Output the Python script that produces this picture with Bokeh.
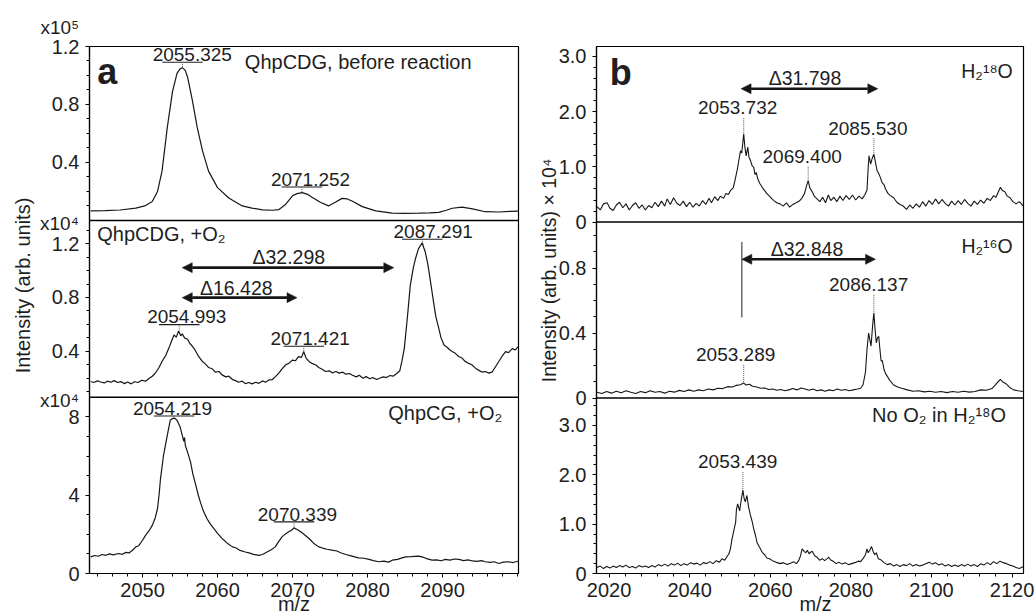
import math
from bokeh.plotting import figure
from bokeh.layouts import row
from bokeh.models import (Range1d, FixedTicker, CustomJSTickFormatter, Span,
                          Arrow, NormalHead, ColumnDataSource, GridBox)
from bokeh.core.properties import value
from bokeh.embed import file_html
from bokeh.resources import INLINE

# ---------------------------------------------------------------- data
# (m/z, intensity)
A1 = [(2043.1, 0.066), (2045.0, 0.068), (2047.0, 0.072), (2049.1, 0.085), (2050.3, 0.1),
      (2051.3, 0.13), (2052.0, 0.2), (2052.6, 0.34), (2053.3, 0.64), (2054.0, 0.89),
      (2054.6, 1.015), (2055.0, 1.045), (2055.3, 1.054), (2055.7, 1.035), (2056.0, 0.99),
      (2056.6, 0.84), (2057.3, 0.64), (2058.0, 0.48), (2058.8, 0.34), (2060.0, 0.226),
      (2061.5, 0.155), (2063.3, 0.1), (2064.6, 0.085), (2066.0, 0.073), (2067.3, 0.07),
      (2068.2, 0.075), (2069.1, 0.112), (2070.0, 0.17), (2070.6, 0.185), (2071.3, 0.192),
      (2072.0, 0.18), (2072.6, 0.16), (2073.7, 0.125), (2074.8, 0.1), (2075.7, 0.125),
      (2076.6, 0.152), (2077.3, 0.148), (2078.0, 0.132), (2079.3, 0.095), (2081.1, 0.066),
      (2083.3, 0.05), (2085.0, 0.048), (2086.8, 0.05), (2088.3, 0.052), (2089.5, 0.055),
      (2090.5, 0.07), (2091.3, 0.084), (2092.6, 0.092), (2094.0, 0.08), (2095.7, 0.06),
      (2097.5, 0.058), (2099.0, 0.062), (2100.1, 0.064)]

A2 = [(2043.1, 0.176), (2043.5, 0.168), (2044.0, 0.18), (2044.4, 0.172), (2044.9, 0.165),
      (2045.3, 0.178), (2045.8, 0.17), (2046.2, 0.182), (2046.7, 0.168), (2047.1, 0.175),
      (2047.6, 0.16), (2048.0, 0.172), (2048.5, 0.158), (2048.9, 0.174), (2049.4, 0.168),
      (2049.9, 0.185), (2050.4, 0.178), (2050.9, 0.2), (2051.3, 0.215), (2051.7, 0.237),
      (2052.2, 0.28), (2052.6, 0.324), (2053.1, 0.37), (2053.5, 0.422), (2053.9, 0.48),
      (2054.2, 0.521), (2054.5, 0.505), (2054.8, 0.55), (2055.1, 0.515), (2055.3, 0.53),
      (2055.6, 0.5), (2056.0, 0.49), (2056.3, 0.46), (2056.6, 0.44), (2057.0, 0.41),
      (2057.3, 0.38), (2057.5, 0.36), (2057.9, 0.33), (2058.4, 0.305), (2058.8, 0.28),
      (2059.3, 0.27), (2059.7, 0.245), (2060.2, 0.25), (2060.6, 0.225), (2061.1, 0.21),
      (2061.5, 0.215), (2062.0, 0.19), (2062.4, 0.182), (2062.8, 0.17), (2063.3, 0.178),
      (2063.7, 0.16), (2064.2, 0.168), (2064.6, 0.158), (2065.1, 0.17), (2065.5, 0.162),
      (2066.0, 0.18), (2066.4, 0.17), (2066.9, 0.188), (2067.3, 0.19), (2067.7, 0.21),
      (2068.2, 0.24), (2068.6, 0.27), (2069.1, 0.3), (2069.5, 0.31), (2070.0, 0.335),
      (2070.4, 0.33), (2070.8, 0.36), (2071.2, 0.355), (2071.5, 0.398), (2071.8, 0.35),
      (2072.2, 0.325), (2072.6, 0.31), (2073.1, 0.298), (2073.5, 0.28), (2074.0, 0.265),
      (2074.4, 0.25), (2074.9, 0.255), (2075.3, 0.24), (2075.8, 0.25), (2076.2, 0.238),
      (2076.7, 0.245), (2077.1, 0.23), (2077.6, 0.235), (2078.0, 0.222), (2078.5, 0.21),
      (2078.9, 0.222), (2079.4, 0.2), (2079.8, 0.212), (2080.3, 0.196), (2080.7, 0.205),
      (2081.2, 0.19), (2081.6, 0.2), (2082.1, 0.21), (2082.5, 0.205), (2083.0, 0.22),
      (2083.4, 0.215), (2083.9, 0.235), (2084.3, 0.255), (2084.6, 0.33), (2084.9, 0.42),
      (2085.3, 0.644), (2085.7, 0.89), (2086.1, 1.02), (2086.4, 1.09), (2086.8, 1.163),
      (2087.3, 1.207), (2087.5, 1.17), (2087.7, 1.138), (2088.0, 1.06), (2088.2, 0.99),
      (2088.5, 0.88), (2088.8, 0.768), (2089.1, 0.66), (2089.5, 0.57), (2089.8, 0.5),
      (2090.2, 0.447), (2090.6, 0.43), (2091.0, 0.41), (2091.3, 0.398), (2091.7, 0.385),
      (2092.2, 0.36), (2092.6, 0.35), (2093.0, 0.325), (2093.5, 0.31), (2093.9, 0.3),
      (2094.4, 0.275), (2094.8, 0.26), (2095.3, 0.245), (2095.7, 0.25), (2096.2, 0.238),
      (2096.6, 0.245), (2097.0, 0.28), (2097.5, 0.324), (2097.9, 0.36), (2098.4, 0.398),
      (2098.8, 0.39), (2099.3, 0.42), (2099.7, 0.41), (2100.1, 0.435)]

A3 = [(2043.1, 0.85), (2043.6, 0.92), (2044.1, 0.88), (2044.6, 0.97), (2045.1, 0.93),
      (2045.6, 1.0), (2046.1, 0.95), (2046.8, 1.02), (2047.3, 0.98), (2047.8, 1.08),
      (2048.2, 1.05), (2048.7, 1.2), (2049.1, 1.36), (2049.5, 1.42), (2050.0, 1.7),
      (2050.4, 1.95), (2050.9, 2.2), (2051.3, 2.46), (2051.7, 2.85), (2052.0, 3.32),
      (2052.2, 4.0), (2052.4, 4.85), (2052.8, 6.04), (2053.3, 7.06), (2053.7, 7.83),
      (2053.9, 7.9), (2054.2, 7.94), (2054.4, 7.9), (2054.6, 7.83), (2055.0, 7.5),
      (2055.3, 7.06), (2055.5, 6.75), (2055.6, 6.95), (2055.7, 6.55), (2056.0, 6.2),
      (2056.4, 5.7), (2056.7, 5.1), (2057.1, 4.51), (2057.4, 4.05), (2057.7, 3.66),
      (2058.1, 3.2), (2058.6, 2.8), (2059.0, 2.55), (2059.5, 2.3), (2060.0, 2.05),
      (2060.6, 1.79), (2061.3, 1.55), (2062.0, 1.36), (2062.5, 1.3), (2063.0, 1.18),
      (2063.7, 1.1), (2064.2, 1.05), (2064.8, 0.98), (2065.5, 0.93), (2066.0, 0.97),
      (2066.6, 1.1), (2067.1, 1.2), (2067.7, 1.36), (2068.1, 1.6), (2068.6, 1.87),
      (2069.0, 2.0), (2069.5, 2.13), (2069.9, 2.22), (2070.2, 2.33), (2070.6, 2.25),
      (2071.1, 2.13), (2071.6, 1.98), (2072.2, 1.79), (2072.8, 1.55), (2073.5, 1.36),
      (2074.0, 1.3), (2074.6, 1.24), (2075.3, 1.19), (2075.9, 1.15), (2076.5, 1.05),
      (2077.1, 0.97), (2077.8, 0.9), (2078.8, 0.8), (2079.5, 0.78), (2080.2, 0.72),
      (2080.8, 0.66), (2081.5, 0.6), (2082.2, 0.63), (2082.8, 0.58), (2083.3, 0.68),
      (2084.0, 0.72), (2084.6, 0.8), (2085.1, 0.85), (2085.8, 0.86), (2086.8, 0.89),
      (2087.5, 0.82), (2088.0, 0.75), (2088.6, 0.68), (2089.2, 0.7), (2089.8, 0.65),
      (2090.4, 0.72), (2091.0, 0.68), (2091.6, 0.74), (2092.2, 0.72), (2092.8, 0.66),
      (2093.4, 0.7), (2094.0, 0.64), (2094.6, 0.62), (2095.2, 0.66), (2095.7, 0.6),
      (2096.3, 0.57), (2096.9, 0.6), (2097.5, 0.51), (2098.1, 0.58), (2098.8, 0.6),
      (2099.4, 0.56), (2100.2, 0.64)]

B1 = [(2017.0, 0.28), (2017.8, 0.22), (2018.6, 0.33), (2019.5, 0.35), (2020.2, 0.25),
      (2021.0, 0.21), (2021.8, 0.31), (2022.6, 0.36), (2023.4, 0.26), (2024.2, 0.33),
      (2025.0, 0.22), (2025.8, 0.3), (2026.6, 0.35), (2027.4, 0.25), (2028.2, 0.31),
      (2029.0, 0.22), (2029.8, 0.3), (2030.6, 0.26), (2031.4, 0.36), (2032.2, 0.28),
      (2033.0, 0.38), (2033.8, 0.29), (2034.4, 0.42), (2035.2, 0.32), (2036.0, 0.44),
      (2036.8, 0.34), (2037.6, 0.3), (2038.4, 0.38), (2039.2, 0.28), (2040.0, 0.36),
      (2040.8, 0.27), (2041.6, 0.34), (2042.4, 0.29), (2043.2, 0.39), (2044.0, 0.32),
      (2044.8, 0.43), (2045.4, 0.35), (2046.2, 0.46), (2047.0, 0.39), (2047.6, 0.47),
      (2048.4, 0.43), (2049.0, 0.52), (2049.6, 0.5), (2050.2, 0.58), (2050.8, 0.62),
      (2051.3, 0.78), (2051.8, 0.95), (2052.2, 1.12), (2052.6, 1.29), (2052.9, 1.25),
      (2053.2, 1.45), (2053.4, 1.6), (2053.7, 1.35), (2054.0, 1.2), (2054.4, 1.36),
      (2054.7, 1.18), (2055.1, 1.11), (2055.5, 1.02), (2055.9, 0.99), (2056.2, 0.86),
      (2056.5, 0.9), (2056.9, 0.78), (2057.4, 0.7), (2058.0, 0.63), (2058.6, 0.57),
      (2059.2, 0.51), (2059.8, 0.47), (2060.4, 0.42), (2060.9, 0.39), (2061.6, 0.35),
      (2062.4, 0.33), (2063.2, 0.29), (2064.0, 0.35), (2064.8, 0.27), (2065.6, 0.32),
      (2066.4, 0.35), (2067.2, 0.38), (2067.9, 0.44), (2068.5, 0.52), (2069.0, 0.66),
      (2069.4, 0.75), (2069.8, 0.62), (2070.4, 0.55), (2071.0, 0.46), (2071.6, 0.42),
      (2072.3, 0.37), (2073.0, 0.45), (2073.7, 0.35), (2074.4, 0.49), (2075.0, 0.39),
      (2075.8, 0.45), (2076.5, 0.37), (2077.3, 0.47), (2078.0, 0.39), (2078.8, 0.48),
      (2079.6, 0.41), (2080.4, 0.49), (2081.2, 0.4), (2082.0, 0.47), (2082.8, 0.42),
      (2083.5, 0.5), (2084.0, 0.58), (2084.3, 1.0), (2084.5, 1.2), (2084.9, 1.05),
      (2085.3, 1.16), (2085.7, 1.23), (2086.1, 1.08), (2086.5, 0.93), (2086.9, 0.88),
      (2087.3, 0.81), (2087.7, 0.72), (2088.2, 0.68), (2088.6, 0.6), (2089.2, 0.52),
      (2089.8, 0.48), (2090.6, 0.44), (2091.4, 0.36), (2092.2, 0.32), (2093.0, 0.29),
      (2093.8, 0.23), (2094.6, 0.31), (2095.4, 0.25), (2096.2, 0.33), (2097.0, 0.27),
      (2097.8, 0.37), (2098.6, 0.29), (2099.4, 0.39), (2100.2, 0.32), (2101.0, 0.42),
      (2101.8, 0.33), (2102.6, 0.41), (2103.4, 0.34), (2104.2, 0.29), (2105.0, 0.38),
      (2105.8, 0.31), (2106.6, 0.39), (2107.4, 0.32), (2108.2, 0.41), (2109.0, 0.34),
      (2109.8, 0.29), (2110.6, 0.38), (2111.4, 0.32), (2112.2, 0.4), (2113.0, 0.34),
      (2113.8, 0.43), (2114.6, 0.39), (2115.4, 0.48), (2116.0, 0.45), (2116.6, 0.55),
      (2117.1, 0.63), (2117.6, 0.57), (2118.2, 0.55), (2118.8, 0.47), (2119.5, 0.44),
      (2120.2, 0.37), (2121.0, 0.33), (2121.8, 0.37), (2122.8, 0.29)]

B2 = [(2017.0, 0.035), (2018.2, 0.028), (2019.4, 0.04), (2020.6, 0.03), (2021.8, 0.042),
      (2023.0, 0.032), (2024.2, 0.045), (2025.4, 0.035), (2026.6, 0.028), (2027.8, 0.04),
      (2029.0, 0.033), (2030.2, 0.045), (2031.4, 0.035), (2032.6, 0.04), (2033.8, 0.03),
      (2035.0, 0.042), (2036.2, 0.036), (2037.4, 0.047), (2038.6, 0.04), (2039.8, 0.05),
      (2041.0, 0.042), (2042.2, 0.05), (2043.4, 0.045), (2044.6, 0.055), (2045.8, 0.05),
      (2047.0, 0.06), (2048.2, 0.058), (2049.4, 0.07), (2050.6, 0.068), (2051.6, 0.078),
      (2052.6, 0.082), (2053.4, 0.092), (2054.0, 0.08), (2054.8, 0.085), (2055.6, 0.072),
      (2056.6, 0.068), (2057.6, 0.06), (2058.6, 0.062), (2059.6, 0.052), (2060.6, 0.055),
      (2061.6, 0.048), (2062.6, 0.052), (2063.6, 0.045), (2064.6, 0.05), (2065.6, 0.058),
      (2066.6, 0.05), (2067.6, 0.062), (2068.6, 0.055), (2069.6, 0.048), (2070.6, 0.055),
      (2071.6, 0.045), (2072.6, 0.05), (2073.6, 0.042), (2074.6, 0.05), (2075.6, 0.045),
      (2076.6, 0.055), (2077.6, 0.048), (2078.6, 0.052), (2079.6, 0.045), (2080.6, 0.05),
      (2081.6, 0.055), (2082.4, 0.06), (2083.0, 0.08), (2083.6, 0.156), (2084.0, 0.3),
      (2084.4, 0.40), (2084.7, 0.36), (2085.0, 0.32), (2085.4, 0.45), (2085.7, 0.525),
      (2086.0, 0.42), (2086.3, 0.34), (2086.6, 0.37), (2086.9, 0.38), (2087.2, 0.3),
      (2087.5, 0.228), (2087.8, 0.23), (2088.2, 0.177), (2088.6, 0.15), (2089.0, 0.135),
      (2089.6, 0.11), (2090.6, 0.08), (2091.6, 0.068), (2092.6, 0.06), (2094.0, 0.05),
      (2095.4, 0.042), (2096.8, 0.045), (2098.2, 0.038), (2099.6, 0.042), (2101.0, 0.035),
      (2102.4, 0.04), (2103.8, 0.033), (2105.2, 0.04), (2106.6, 0.035), (2108.0, 0.042),
      (2109.4, 0.036), (2110.8, 0.04), (2112.2, 0.05), (2113.6, 0.048), (2115.0, 0.058),
      (2115.8, 0.08), (2116.5, 0.1), (2117.1, 0.115), (2117.6, 0.1), (2118.4, 0.09),
      (2119.4, 0.065), (2120.4, 0.05), (2121.4, 0.045), (2122.8, 0.04)]

B3 = [(2017.0, 0.12), (2017.8, 0.15), (2018.6, 0.1), (2019.4, 0.14), (2020.2, 0.11),
      (2021.0, 0.15), (2021.8, 0.12), (2022.6, 0.16), (2023.4, 0.13), (2024.2, 0.17),
      (2025.0, 0.12), (2025.8, 0.14), (2026.6, 0.11), (2027.4, 0.16), (2028.2, 0.13),
      (2029.0, 0.15), (2029.8, 0.12), (2030.6, 0.16), (2031.4, 0.13), (2032.2, 0.18),
      (2033.0, 0.15), (2033.8, 0.19), (2034.6, 0.15), (2035.4, 0.2), (2036.2, 0.17),
      (2037.0, 0.21), (2037.8, 0.16), (2038.6, 0.2), (2039.4, 0.17), (2040.2, 0.22),
      (2041.0, 0.19), (2041.8, 0.21), (2042.6, 0.17), (2043.4, 0.22), (2044.2, 0.2),
      (2045.0, 0.24), (2045.8, 0.2), (2046.6, 0.26), (2047.4, 0.23), (2048.0, 0.3),
      (2048.7, 0.27), (2049.3, 0.35), (2049.7, 0.39), (2050.1, 0.5), (2050.5, 0.7),
      (2050.9, 0.85), (2051.4, 1.04), (2051.6, 1.3), (2051.9, 1.41), (2052.4, 1.27),
      (2052.8, 1.5), (2053.2, 1.69), (2053.5, 1.52), (2053.8, 1.45), (2054.2, 1.58),
      (2054.6, 1.35), (2055.1, 1.17), (2055.5, 1.05), (2055.9, 0.9), (2056.3, 0.78),
      (2056.7, 0.63), (2057.2, 0.55), (2058.0, 0.43), (2058.6, 0.38), (2059.2, 0.31),
      (2059.8, 0.3), (2060.5, 0.26), (2061.2, 0.24), (2061.7, 0.22), (2062.5, 0.2),
      (2063.2, 0.22), (2064.2, 0.18), (2065.0, 0.21), (2065.8, 0.24), (2066.5, 0.2),
      (2067.1, 0.27), (2067.5, 0.36), (2067.9, 0.5), (2068.4, 0.45), (2068.8, 0.42),
      (2069.2, 0.47), (2069.6, 0.4), (2070.0, 0.43), (2070.4, 0.45), (2071.0, 0.36),
      (2071.6, 0.33), (2072.2, 0.27), (2072.9, 0.3), (2073.5, 0.26), (2074.1, 0.3),
      (2074.5, 0.33), (2074.9, 0.28), (2075.6, 0.25), (2076.3, 0.2), (2077.0, 0.23),
      (2077.8, 0.19), (2078.6, 0.22), (2079.4, 0.18), (2080.2, 0.2), (2081.0, 0.22),
      (2081.8, 0.25), (2082.4, 0.24), (2083.0, 0.3), (2083.6, 0.38), (2084.0, 0.5),
      (2084.3, 0.42), (2084.7, 0.47), (2085.1, 0.55), (2085.5, 0.45), (2085.9, 0.38),
      (2086.3, 0.42), (2086.8, 0.3), (2087.4, 0.28), (2088.2, 0.22), (2089.0, 0.18),
      (2089.8, 0.2), (2090.6, 0.15), (2091.4, 0.18), (2092.2, 0.14), (2093.0, 0.18),
      (2093.8, 0.16), (2094.6, 0.2), (2095.4, 0.15), (2096.2, 0.18), (2097.0, 0.15),
      (2097.8, 0.17), (2098.6, 0.2), (2099.4, 0.23), (2100.2, 0.19), (2101.0, 0.22),
      (2101.8, 0.17), (2102.6, 0.2), (2103.4, 0.15), (2104.2, 0.18), (2105.0, 0.14),
      (2105.8, 0.17), (2106.6, 0.14), (2107.4, 0.18), (2108.2, 0.15), (2109.0, 0.19),
      (2109.8, 0.15), (2110.6, 0.18), (2111.4, 0.14), (2112.2, 0.2), (2113.0, 0.17),
      (2113.8, 0.22), (2114.6, 0.18), (2115.4, 0.24), (2116.2, 0.2), (2117.0, 0.25),
      (2117.8, 0.22), (2118.6, 0.2), (2119.4, 0.17), (2120.2, 0.15), (2121.0, 0.12),
      (2121.8, 0.1), (2122.8, 0.14)]

# labelled peaks, panel a (underlined labels)
A1_PEAK_MZ = [2055.33, 2071.25]
A1_PEAK_INT = [1.054, 0.192]
A1_PEAK_TXT = ["2055.325", "2071.252"]
A2_PEAK_MZ = [2054.9, 2071.5, 2087.3]
A2_PEAK_INT = [0.55, 0.398, 1.207]
A2_PEAK_TXT = ["2054.993", "2071.421", "2087.291"]
A3_PEAK_MZ = [2054.2, 2070.2]
A3_PEAK_INT = [7.94, 2.33]
A3_PEAK_TXT = ["2054.219", "2070.339"]

# labelled peaks, panel b (dotted markers)
B1_PEAK_MZ = [2053.4, 2069.4, 2085.7]
B1_PEAK_INT = [1.60, 0.75, 1.23]
B1_PEAK_TXT = ["2053.732", "2069.400", "2085.530"]
B2_PEAK_MZ = [2085.7, 2053.4]
B2_PEAK_INT = [0.525, 0.092]
B2_PEAK_TXT = ["2086.137", "2053.289"]
B3_PEAK_MZ = [2053.2]
B3_PEAK_INT = [1.69]
B3_PEAK_TXT = ["2053.439"]

# mass differences (double arrows)
A2_DELTA_FROM = [2055.3, 2055.3]
A2_DELTA_TO = [2083.5, 2070.6]
A2_DELTA_TXT = ["\u039432.298", "\u039416.428"]
B1_DELTA_FROM = [2052.75]
B1_DELTA_TO = [2086.67]
B1_DELTA_TXT = ["\u039431.798"]
B2_DELTA_FROM = [2052.93]
B2_DELTA_TO = [2086.1]
B2_DELTA_TXT = ["\u039432.848"]

PANEL_TITLES_A = ["QhpCDG, before reaction", "QhpCDG, +O\u2082", "QhpCG, +O\u2082"]
PANEL_TITLES_B = ["H\u2082\u00b9\u2078O", "H\u2082\u00b9\u2076O", "No O\u2082 in H\u2082\u00b9\u2078O"]
SCALE_TXT = ["x10\u2075", "x10\u2074", "x10\u2074"]
Y_TITLE_A = "Intensity (arb. units)"
Y_TITLE_B = "Intensity (arb. units) \u00d7 10\u2074"
X_TITLE = "m/z"

A_YTICKS = [[0.4, 0.8, 1.2], [0.4, 0.8, 1.2], [0, 4, 8]]
A_YLABELS = [["0.4", "0.8", "1.2"], ["0.4", "0.8", "1.2"], ["0", "4", "8"]]
B_YTICKS = [[0, 1, 2, 3], [0, 0.4, 0.8], [0, 1, 2, 3]]
B_YLABELS = [["0", "1.0", "2.0", "3.0"], ["0", "0.4", "0.8"], ["0", "1.0", "2.0", "3.0"]]
A_XTICKS = [2050, 2060, 2070, 2080, 2090]
B_XTICKS = [2020, 2040, 2060, 2080, 2100, 2120]

# ---------------------------------------------------------------- layout / style
FONT = "Liberation Sans"
INK = "#161616"
TXT = "#1e1e1e"
GREY = "#555555"
MID = 0.35          # em offset between text middle and its baseline

W, H = 1035, 615
FRAME_H = 527
TOP = 46
BOTTOM = H - TOP - FRAME_H

A_XR = (2042.93, 2100.13)
B_XR = (2016.87, 2122.83)
A_LIMS = [(0.0, 1.2), (0.058, 1.373), (0.0, 9.0)]
B_LIMS = [(0.0, 3.18), (0.0, 1.083), (0.0, 3.555)]
A_BANDS = [(0.670, 1.0), (0.3343, 0.670), (0.0, 0.3343)]
B_BANDS = [(0.6668, 1.0), (0.333, 0.6668), (0.0, 0.333)]
A_MINOR = [0.1, 0.1, 1.0]
B_MINOR = [0.2, 0.1, 0.2]


def upp(lims, band):
    return (lims[1] - lims[0]) / ((band[1] - band[0]) * FRAME_H)


def make_side(width, lb, rb, xr, names, lims, bands, yt, yl, minor_steps, xticks, xminor):
    p = figure(width=width, height=H, x_range=Range1d(*xr), y_range=Range1d(0, 1),
               min_border_left=lb, min_border_right=rb, min_border_top=TOP,
               min_border_bottom=BOTTOM, output_backend="svg", toolbar_location=None,
               tools="", title=None)
    p.grid.visible = False
    p.background_fill_color = "white"
    p.border_fill_color = "white"
    p.outline_line_color = "black"
    p.outline_line_width = 1.2
    ranges = {}
    for nm, (lo, hi), (b0, b1) in zip(names, lims, bands):
        span = (hi - lo) / (b1 - b0)
        start = lo - b0 * span
        ranges[nm] = Range1d(start, start + span)
    p.extra_y_ranges = ranges

    pos, labs, minor = [], [], []
    for (lo, hi), (b0, b1), mj, ml, st in zip(lims, bands, yt, yl, minor_steps):
        for v, t in zip(mj, ml):
            q = round(b0 + (v - lo) / (hi - lo) * (b1 - b0), 6)
            q = min(max(q, 0.0), 1.0)
            pos.append(q)
            labs.append(t)
        n = int(hi / st + 1e-9)
        for k in range(1, n + 1):
            v = k * st
            if v <= lo or v >= hi - 1e-9:
                continue
            if any(abs(v - m) < 1e-9 for m in mj):
                continue
            minor.append(round(b0 + (v - lo) / (hi - lo) * (b1 - b0), 6))
    yax = p.yaxis[0]
    yax.ticker = FixedTicker(ticks=pos, minor_ticks=minor)
    yax.formatter = CustomJSTickFormatter(args=dict(pos=pos, labs=labs), code="""
        for (let i = 0; i < pos.length; i++) {
            if (Math.abs(tick - pos[i]) < 1e-6) { return labs[i]; }
        }
        return "";
    """)
    yax.major_label_standoff = 6
    xax = p.xaxis[0]
    xax.ticker = FixedTicker(ticks=xticks, minor_ticks=xminor)
    xax.major_label_standoff = 5
    for ax in (xax, yax):
        ax.axis_line_color = "black"
        ax.axis_line_width = 1.2
        ax.major_tick_line_color = "black"
        ax.minor_tick_line_color = "black"
        ax.major_tick_in = 0
        ax.major_tick_out = 4
        ax.minor_tick_in = 0
        ax.minor_tick_out = 3
        ax.major_label_text_font = FONT
        ax.major_label_text_font_size = "20px"
        ax.major_label_text_color = TXT
    for b0, b1 in bands[1:]:
        p.add_layout(Span(location=b1, dimension="width", line_color="black", line_width=1.5))
    return p


def ptext(p, nm, u, xs, base, texts, fs=19.0, align="center", style="normal"):
    ys = [b + MID * fs * u for b in base]
    p.text(x=xs, y=ys, text=texts, y_range_name=nm, text_font=value(FONT),
           text_font_size=value(f"{fs}px"), text_color=TXT, text_align=align,
           text_baseline="middle", text_font_style=style)


def underlined(p, nm, u, px, py, txt, dx, gap):
    hw = 2.7
    uy = [y + g * u for y, g in zip(py, gap)]
    p.segment(x0=[x - hw for x in px], y0=uy, x1=[x + hw for x in px], y1=uy,
              y_range_name=nm, line_color=TXT, line_width=1.1)
    p.segment(x0=px, y0=[y + 0.5 * u for y in py], x1=px, y1=uy, y_range_name=nm,
              line_color=GREY, line_width=1, line_dash="1 1")
    ptext(p, nm, u, [x + d for x, d in zip(px, dx)], [y + 1.0 * u for y in uy], txt)


def dotted(p, nm, u, px, py, txt, tx, tgap):
    p.segment(x0=px, y0=[y + 1.0 * u for y in py], x1=px,
              y1=[y + (g - 3.5) * u for y, g in zip(py, tgap)], y_range_name=nm,
              line_color=GREY, line_width=1, line_dash="1 1")
    ptext(p, nm, u, tx, [y + g * u for y, g in zip(py, tgap)], txt)


def darrows(p, nm, x0, x1, y):
    src = ColumnDataSource(dict(x0=x0, x1=x1, y=y))
    p.add_layout(Arrow(x_start="x0", y_start="y", x_end="x1", y_end="y", source=src,
                       start=NormalHead(size=10, fill_color=INK, line_color=INK, line_width=0.5),
                       end=NormalHead(size=10, fill_color=INK, line_color=INK, line_width=0.5),
                       line_color=INK, line_width=2.6, y_range_name=nm))


# ---------------------------------------------------------------- panel a
A_NAMES = ["a1", "a2", "a3"]
left = make_side(522, 89, 4, A_XR, A_NAMES, A_LIMS, A_BANDS, A_YTICKS, A_YLABELS, A_MINOR,
                 A_XTICKS, [2044 + 2 * k for k in range(29)])
for nm, tr in zip(A_NAMES, [A1, A2, A3]):
    left.line([t[0] for t in tr], [t[1] for t in tr], y_range_name=nm,
              line_color=INK, line_width=1.2)
ua = [upp(l, b) for l, b in zip(A_LIMS, A_BANDS)]
underlined(left, "a1", ua[0], A1_PEAK_MZ, A1_PEAK_INT, A1_PEAK_TXT, [1.3, 1.15], [5.4, 5.6])
underlined(left, "a2", ua[1], A2_PEAK_MZ, A2_PEAK_INT, A2_PEAK_TXT, [1.0, 0.85, 1.45], [6.5, 5.3, 3.5])
underlined(left, "a3", ua[2], A3_PEAK_MZ, A3_PEAK_INT, A3_PEAK_TXT, [-0.2, 0.45], [2.0, 6.0])
darrows(left, "a2", A2_DELTA_FROM, A2_DELTA_TO, [1.022, 0.799])
ptext(left, "a2", ua[1], [2069.5, 2062.5], [1.054, 0.823], A2_DELTA_TXT, fs=19.5)
ptext(left, "a1", ua[0], [2063.64], [1.042], [PANEL_TITLES_A[0]], fs=20, align="left")
ptext(left, "a2", ua[1], [2043.96], [1.219], [PANEL_TITLES_A[1]], fs=20, align="left")
ptext(left, "a3", ua[2], [2097.96], [7.83], [PANEL_TITLES_A[2]], fs=20, align="right")
ptext(left, "a1", ua[0], [2043.96], [0.938], ["a"], fs=36, align="left", style="bold")

# ---------------------------------------------------------------- panel b
B_NAMES = ["b1", "b2", "b3"]
right = make_side(513, 74, 12, B_XR, B_NAMES, B_LIMS, B_BANDS, B_YTICKS, B_YLABELS, B_MINOR,
                  B_XTICKS, [2020 + 4 * k for k in range(26)])
for nm, tr in zip(B_NAMES, [B1, B2, B3]):
    right.line([t[0] for t in tr], [t[1] for t in tr], y_range_name=nm,
               line_color=INK, line_width=1.1)
ub = [upp(l, b) for l, b in zip(B_LIMS, B_BANDS)]
dotted(right, "b1", ub[0], B1_PEAK_MZ, B1_PEAK_INT, B1_PEAK_TXT, [2051.9, 2067.9, 2084.2], [19.3, 17.4, 19.3])
dotted(right, "b2", ub[1], B2_PEAK_MZ, B2_PEAK_INT, B2_PEAK_TXT, [2084.4, 2051.4], [21.6, 22.3])
dotted(right, "b3", ub[2], B3_PEAK_MZ, B3_PEAK_INT, B3_PEAK_TXT, [2051.9], [21.6])
darrows(right, "b1", B1_DELTA_FROM, B1_DELTA_TO, [2.415])
darrows(right, "b2", B2_DELTA_FROM, B2_DELTA_TO, [0.854])
right.segment(x0=B2_DELTA_FROM, y0=[0.495], x1=B2_DELTA_FROM, y1=[0.96], y_range_name="b2",
              line_color=GREY, line_width=1.3)
ptext(right, "b1", ub[0], [2068.6], [2.48], B1_DELTA_TXT, fs=19.5)
ptext(right, "b2", ub[1], [2069.1], [0.874], B2_DELTA_TXT, fs=19.5)
ptext(right, "b1", ub[0], [2120.17], [2.61], [PANEL_TITLES_B[0]], fs=19.5, align="right")
ptext(right, "b2", ub[1], [2120.17], [0.895], [PANEL_TITLES_B[1]], fs=19.5, align="right")
ptext(right, "b3", ub[2], [2118.5], [3.07], [PANEL_TITLES_B[2]], fs=20, align="right")
ptext(right, "b1", ub[0], [2020.17], [2.49], ["b"], fs=36, align="left", style="bold")

# ---------------------------------------------------------------- titles outside the frames
# a transparent page-sized layer (pixel space, y measured upward) for the axis titles
ov = figure(width=W, height=H, x_range=Range1d(0, W), y_range=Range1d(0, H), min_border=0,
            x_axis_type=None, y_axis_type=None, output_backend="svg",
            toolbar_location=None, tools="", title=None)
ov.outline_line_color = None
ov.background_fill_alpha = 0
ov.border_fill_alpha = 0


def otext(xs, base_from_top, texts, fs=19.0, align="left", angle=0.0):
    ys = [H - b + MID * fs for b in base_from_top]
    ov.text(x=xs, y=ys, text=texts, angle=angle, text_font=value(FONT),
            text_font_size=value(f"{fs}px"), text_color=TXT, text_align=align,
            text_baseline="middle")


otext([40, 39.5, 39.5], [33.3, 229.3, 406.5], SCALE_TXT, fs=19)
ov.text(x=[22], y=[H - 285], text=[Y_TITLE_A], angle=math.pi / 2, text_font=value(FONT),
        text_font_size=value("20px"), text_color=TXT, text_align="center",
        text_baseline="middle")
ov.text(x=[548], y=[H - 270], text=[Y_TITLE_B], angle=math.pi / 2, text_font=value(FONT),
        text_font_size=value("19.5px"), text_color=TXT, text_align="center",
        text_baseline="middle")
otext([293.5, 815], [610.5, 610.5], [X_TITLE, X_TITLE], fs=20, align="center")

base = row(left, right)
layout = GridBox(children=[(base, 0, 0), (ov, 0, 0)])
open("out.html", "w").write(file_html(layout, INLINE, "MALDI spectra"))
